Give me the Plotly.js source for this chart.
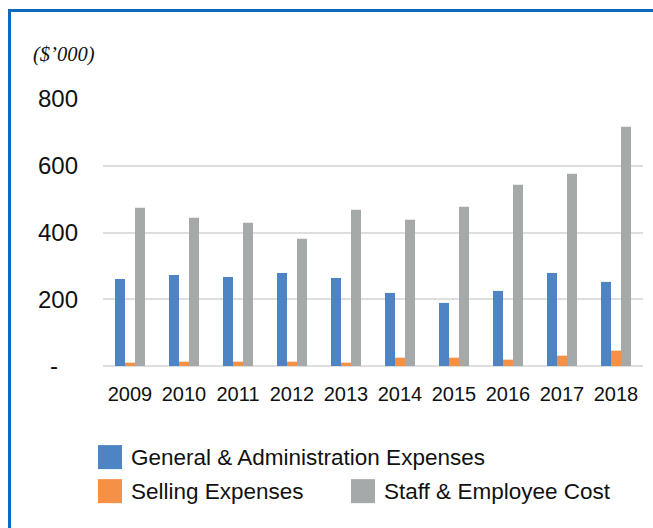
<!DOCTYPE html>
<html>
<head>
<meta charset="utf-8">
<script src="https://cdn.plot.ly/plotly-3.0.1.min.js"></script>
<style>
  body { margin: 0; background: #fff; }
  #wrap { position: relative; width: 653px; height: 528px; }
  #plotArea { width: 653px; height: 528px; }
  /* the blue frame around the chart, only top and left edges show */
  #frame {
    position: absolute; left: 8px; top: 9px; right: -10px; bottom: -10px;
    border-top: 3.5px solid #0d69bd; border-left: 3.5px solid #0d69bd;
    pointer-events: none;
  }
</style>
</head>
<body>
<div id="wrap">
  <div id="plotArea"></div>
  <div id="frame"></div>
</div>
<script>
// data ($'000)
var years = ["2009", "2010", "2011", "2012", "2013", "2014", "2015", "2016", "2017", "2018"];
var genAdmin = [261, 273, 267, 279, 264, 219, 189, 225, 279, 252];
var selling = [10, 13, 13, 13, 10, 25, 25, 19, 31, 46];
var staff = [474, 444, 429, 381, 468, 438, 477, 543, 576, 717];

var yTicks = [0, 200, 400, 600, 800];
var yTickText = ["-\u00a0\u00a0\u00a0", "200", "400", "600", "800"];

var names = ["General & Administration Expenses", "Selling Expenses", "Staff & Employee Cost"];
var colors = ["#4f84c4", "#f59147", "#a6a9a9"];

var font = "Liberation Sans, Arial, Helvetica, sans-serif";

// plot area in pixels, used to place the hand made legend
var plotL = 103, plotR = 643, plotT = 99.3, plotB = 366;
function px(x) { return (x - plotL) / (plotR - plotL); }
function py(y) { return (plotB - y) / (plotB - plotT); }

var data = [
    {x: years, y: genAdmin, name: names[0], type: "bar", marker: {color: colors[0]}},
    {x: years, y: selling, name: names[1], type: "bar", marker: {color: colors[1]}},
    {x: years, y: staff, name: names[2], type: "bar", marker: {color: colors[2]}}
];

// legend: squares + labels
var legendItems = [
    {x: 98, y: 445, text: names[0], color: colors[0]},
    {x: 98, y: 479, text: names[1], color: colors[1]},
    {x: 351, y: 479, text: names[2], color: colors[2]}
];
var shapes = [];
var annotations = [];
legendItems.forEach(function (it) {
    shapes.push({
        type: "rect", xref: "paper", yref: "paper",
        x0: px(it.x), x1: px(it.x + 24), y0: py(it.y), y1: py(it.y + 24),
        fillcolor: it.color, line: {width: 0}
    });
    annotations.push({
        xref: "paper", yref: "paper", x: px(it.x + 31), y: py(it.y + 12),
        xanchor: "left", yanchor: "middle", showarrow: false,
        text: it.text, font: {family: font, size: 22.5, color: "#111"}
    });
});

var layout = {
    width: 653,
    height: 528,
    margin: {l: plotL, r: 653 - plotR, t: plotT, b: 528 - plotB, pad: 0},
    paper_bgcolor: "#fff",
    plot_bgcolor: "#fff",
    showlegend: false,
    barmode: "group",
    bargap: 0.444,
    bargroupgap: 0,
    title: {
        text: "($\u2019000)",
        xref: "container", yref: "container",
        x: 33 / 653, y: 1 - 54 / 528,
        xanchor: "left", yanchor: "middle",
        font: {family: "Liberation Serif, Times New Roman, serif", size: 20.5, style: "italic", color: "#111"}
    },
    xaxis: {
        type: "category",
        showgrid: false,
        showline: false,
        ticks: "",
        ticklabelstandoff: 14,
        tickfont: {family: font, size: 20, color: "#111"}
    },
    yaxis: {
        range: [0, 800],
        tickvals: yTicks,
        ticktext: yTickText,
        showgrid: true,
        gridcolor: "#dedede",
        gridwidth: 2,
        zeroline: true,
        zerolinecolor: "#dedede",
        zerolinewidth: 2,
        showline: false,
        ticks: "",
        ticklabelstandoff: 24,
        tickfont: {family: font, size: 24, color: "#111"}
    },
    shapes: shapes,
    annotations: annotations
};

Plotly.newPlot("plotArea", data, layout, {staticPlot: true, displayModeBar: false});
</script>
</body>
</html>
